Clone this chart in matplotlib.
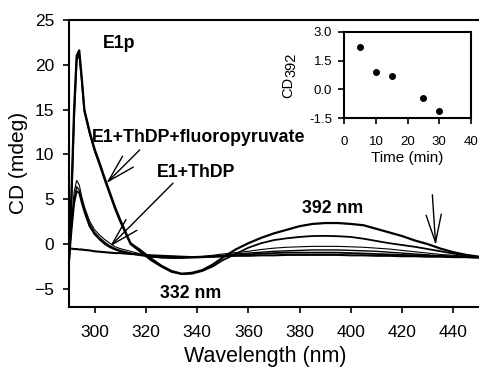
import matplotlib
matplotlib.use("Agg")
import matplotlib.pyplot as plt

plt.rcParams['font.family'] = ['Liberation Sans', 'DejaVu Sans']

# wavelength grid (nm)
wl = [290, 291, 292, 293, 294, 295, 296, 298, 300, 302, 304, 306, 308, 310, 314, 318,
      322, 326, 330, 334, 338, 342, 346, 350, 355, 360, 365, 370, 375, 380, 385, 390,
      395, 400, 405, 410, 415, 420, 425, 430, 435, 440, 445, 450]

# spectra (mdeg)
cd_a = [-2.0, 6.0, 15.0, 21.0, 21.6, 18.5, 15.0, 12.6, 10.6, 9.0, 7.3, 5.7, 4.1, 2.7, 0.1, -0.7,
        -1.6, -2.4, -3.0, -3.3, -3.2, -2.9, -2.3, -1.5, -0.6, 0.1, 0.7, 1.2, 1.6, 2.0, 2.25, 2.35,
        2.35, 2.25, 2.1, 1.7, 1.3, 0.9, 0.4, 0.0, -0.5, -0.9, -1.2, -1.4]
cd_b = [-2.2, 5.0, 14.0, 20.5, 21.2, 18.2, 14.8, 12.4, 10.4, 8.8, 7.1, 5.5, 3.9, 2.5, 0.0, -0.9,
        -1.8, -2.5, -3.1, -3.35, -3.3, -3.0, -2.5, -1.8, -1.1, -0.4, 0.1, 0.45, 0.65, 0.8, 0.9, 0.92,
        0.88, 0.8, 0.6, 0.35, 0.1, -0.1, -0.3, -0.55, -0.8, -1.05, -1.3, -1.45]
cd_c = [-1.5, 2.5, 5.8, 7.1, 6.6, 5.3, 4.2, 2.6, 1.6, 1.0, 0.5, 0.1, -0.3, -0.5, -0.8, -1.1,
        -1.3, -1.4, -1.45, -1.45, -1.4, -1.35, -1.25, -1.1, -0.95, -0.8, -0.6, -0.45, -0.35, -0.3, -0.25, -0.25,
        -0.25, -0.3, -0.35, -0.45, -0.55, -0.7, -0.85, -1.0, -1.15, -1.25, -1.35, -1.45]
cd_d = [-1.7, 2.0, 5.0, 6.4, 6.0, 4.9, 3.9, 2.3, 1.3, 0.7, 0.2, -0.2, -0.5, -0.7, -1.0, -1.2,
        -1.4, -1.5, -1.5, -1.5, -1.45, -1.4, -1.35, -1.25, -1.1, -1.0, -0.9, -0.8, -0.75, -0.7, -0.65, -0.65,
        -0.65, -0.7, -0.75, -0.8, -0.9, -1.0, -1.1, -1.2, -1.3, -1.35, -1.4, -1.45]
cd_f = [-1.9, 1.5, 4.5, 5.9, 5.7, 4.6, 3.6, 2.0, 1.1, 0.5, 0.0, -0.35, -0.6, -0.8, -1.05, -1.25,
        -1.4, -1.5, -1.55, -1.55, -1.5, -1.45, -1.4, -1.35, -1.25, -1.15, -1.05, -1.0, -0.95, -0.95, -0.95, -0.95,
        -0.95, -1.0, -1.05, -1.1, -1.15, -1.2, -1.25, -1.3, -1.35, -1.4, -1.45, -1.5]
cd_e = [-0.5, -0.5, -0.55, -0.55, -0.6, -0.6, -0.65, -0.7, -0.8, -0.85, -0.9, -0.95, -1.0, -1.0, -1.1, -1.15,
        -1.25, -1.3, -1.35, -1.4, -1.45, -1.45, -1.4, -1.35, -1.3, -1.3, -1.25, -1.25, -1.2, -1.2, -1.2, -1.2,
        -1.2, -1.25, -1.25, -1.3, -1.3, -1.35, -1.35, -1.4, -1.4, -1.45, -1.45, -1.5]

# inset: CD at 392 nm vs time
t_min = [5, 10, 15, 25, 30]
cd392 = [2.2, 0.9, 0.68, -0.45, -1.12]

fig = plt.figure(figsize=(4.79, 3.68), dpi=100)
ax = fig.add_axes([0.144, 0.166, 0.856, 0.78])

ax.plot(wl, cd_e, 'k', lw=1.5)
ax.plot(wl, cd_f, 'k', lw=1.3)
ax.plot(wl, cd_d, 'k', lw=1.0)
ax.plot(wl, cd_c, 'k', lw=0.8)
ax.plot(wl, cd_b, 'k', lw=1.3)
ax.plot(wl, cd_a, 'k', lw=1.6)

ax.set_xlim(290, 450)
ax.set_ylim(-7, 25)
ax.set_xticks(range(300, 441, 20))
ax.set_yticks(range(-5, 26, 5))
ax.tick_params(direction='out', length=4.5, width=1.2, labelsize=12.5)
ax.tick_params(axis='x', pad=8.5)
ax.tick_params(axis='y', pad=6)
ax.spines['right'].set_visible(False)
for s in ['left', 'bottom', 'top']:
    ax.spines[s].set_linewidth(1.5)
ax.set_xlabel('Wavelength (nm)', fontsize=15.5)
ax.xaxis.set_label_coords(0.479, -0.136)
ax.set_ylabel('CD (mdeg)', fontsize=15, labelpad=5)

# labels and arrows
lab = dict(fontsize=12.8, fontweight='bold', va='center')
ax.text(303.2, 22.4, 'E1p', **lab)
ax.text(299.0, 11.9, 'E1+ThDP+fluoropyruvate', **lab)
ax.text(324.3, 8.0, 'E1+ThDP', **lab)
ax.text(381.1, 4.0, '392 nm', **lab)
ax.text(325.4, -5.5, '332 nm', **lab)

arrow = dict(arrowstyle='->,head_length=2.0,head_width=0.55', color='k', lw=1.0,
             shrinkA=0, shrinkB=0, mutation_scale=10)
ax.annotate('', xy=(304.6, 6.8), xytext=(317.6, 10.5), arrowprops=arrow)
ax.annotate('', xy=(306.0, -0.27), xytext=(330.6, 6.8), arrowprops=arrow)
ax.annotate('', xy=(433.1, -0.1), xytext=(431.8, 5.5), arrowprops=arrow)

# inset
ins = fig.add_axes([0.7188, 0.6785, 0.2639, 0.2354])
ins.plot(t_min, cd392, 'ko', ms=4)
ins.set_xlim(0, 40)
ins.set_ylim(-1.5, 3.0)
ins.set_xticks([0, 10, 20, 30, 40])
ins.set_yticks([-1.5, 0.0, 1.5, 3.0])
ins.set_yticklabels(['-1.5', '0.0', '1.5', '3.0'])
ins.tick_params(direction='out', length=4.3, width=1.2, labelsize=9.5)
ins.tick_params(axis='x', pad=8.5)
ins.tick_params(axis='y', pad=4.5)
for s in ins.spines.values():
    s.set_linewidth(1.5)
ins.set_xlabel('Time (min)', fontsize=11, labelpad=2)
ins.text(-0.41, 0.231, 'CD', rotation=90, fontsize=10.5, ha='left', va='baseline',
         rotation_mode='anchor', transform=ins.transAxes)
ins.text(-0.385, 0.48, '392', rotation=90, fontsize=10.5, ha='left', va='baseline',
         rotation_mode='anchor', transform=ins.transAxes)

fig.savefig('out.png', dpi=100)
